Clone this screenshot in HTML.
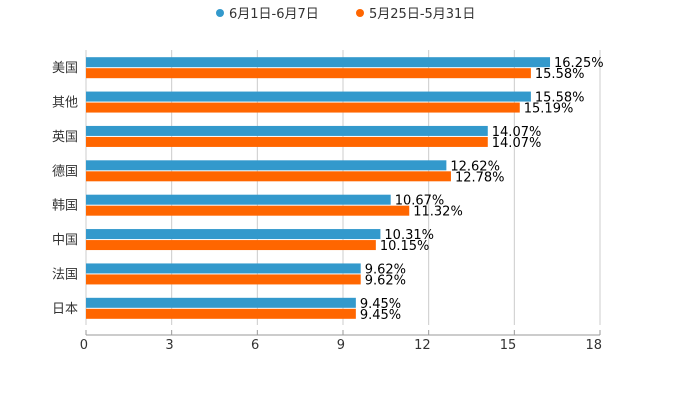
<!DOCTYPE html>
<html><head><meta charset="utf-8"><style>
body{margin:0;background:#fff;font-family:"DejaVu Sans","Noto Sans CJK SC",sans-serif}
</style></head><body>
<svg id="c" width="700" height="400" xmlns="http://www.w3.org/2000/svg" font-family="DejaVu Sans, Noto Sans CJK SC, sans-serif">
<g>
<g><circle cx="220" cy="13" r="4" fill="#3399cc"/><text x="229" y="18" font-size="13" fill="#333">6月1日-6月7日</text></g>
<g><circle cx="360" cy="13" r="4" fill="#ff6600"/><text x="369" y="18" font-size="13" fill="#333">5月25日-5月31日</text></g>
</g>
</svg>
<script>
const categories=["美国","其他","英国","德国","韩国","中国","法国","日本"];
const seriesJun=[16.25,15.58,14.07,12.62,10.67,10.31,9.62,9.45];
const seriesMay=[15.58,15.19,14.07,12.78,11.32,10.15,9.62,9.45];
const ticks=[0,3,6,9,12,15,18];
const svg=document.getElementById('c');const NS='http://www.w3.org/2000/svg';
const x0=86,x1=600,plotTop=50,plotBottom=325,max=18;
const xs=v=>x0+(x1-x0)*v/max;
const band=(plotBottom-plotTop)/categories.length;
function mk(t,a,p){const e=document.createElementNS(NS,t);for(const k in a)e.setAttribute(k,a[k]);(p||svg).appendChild(e);return e;}
ticks.forEach(t=>{
const g=mk('line',{x1:xs(t),x2:xs(t),y1:plotTop,y2:plotBottom,stroke:'#ccc','stroke-width':1});


const tk=mk('line',{x1:xs(t),x2:xs(t),y1:335,y2:330,stroke:'#999'});


const l=mk('text',{x:xs(t)+2,y:349,'text-anchor':'end','font-size':13,fill:'#333'});l.textContent=t;


});
const ax=mk('line',{x1:x0,x2:x1,y1:335,y2:335,stroke:'#999'});


categories.forEach((c,i)=>{
const cy=plotTop+band*i+band/2;
const lab=mk('text',{x:78,y:cy+5,'text-anchor':'end','font-size':13,fill:'#333'});lab.textContent=c;


[[seriesJun[i],'#3399cc',cy-10,'jun'],[seriesMay[i],'#ff6600',cy+1,'may']].forEach(([v,col,y,n])=>{
const r=mk('rect',{x:x0,y:y,width:xs(v)-x0,height:10,fill:col});


const t=mk('text',{x:xs(v)+4,y:y+10,'font-size':13,fill:'#000'});t.textContent=v.toFixed(2)+'%';


});
});
</script>
</body></html>
